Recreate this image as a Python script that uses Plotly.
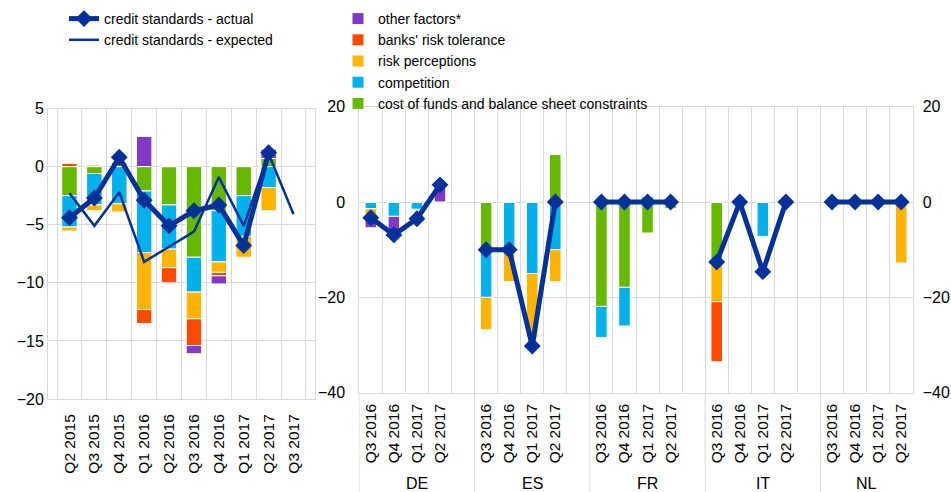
import plotly.graph_objects as go

# euro area panel
ea_quarters = ["Q2 2015", "Q3 2015", "Q4 2015", "Q1 2016", "Q2 2016",
               "Q3 2016", "Q4 2016", "Q1 2017", "Q2 2017", "Q3 2017"]
ea_cost = [-2.5, -0.6, 0, -2.1, -3.3, -7.8, -3.8, -2.5, 0.7, None]
ea_comp = [-2.7, -2.7, -3.2, -5.3, -3.8, -3.0, -4.4, -3.5, -1.8, None]
ea_risk = [-0.35, -0.5, -0.7, -4.9, -1.6, -2.3, -0.9, -1.8, -2.0, None]
ea_tol = [0.3, 0.15, 0.4, -1.2, -1.3, -2.3, -0.3, 0.1, 0, None]
ea_other = [0, 0, 0, 2.6, 0, -0.7, -0.7, 0, 0.8, None]
ea_actual = [-4.4, -2.7, 0.8, -2.9, -5.1, -3.8, -3.3, -6.8, 1.2, None]
ea_expected = [-2.3, -5.1, -2.2, -8.2, -6.9, -5.6, -0.9, -5.1, 1.1, -4.1]

# country panel (DE, ES, FR, IT, NL x 4 quarters)
countries = ["DE", "ES", "FR", "IT", "NL"]
cty_quarters = ["Q3 2016", "Q4 2016", "Q1 2017", "Q2 2017"]
cty_cost = [0, 0, 0, 0, -10.0, 0, 0, 10.0, -21.9, -17.9, -6.5, -1.4,
            -12.6, 0, 0, 0, 0, 0, 0, 0]
cty_comp = [-1.4, -3.0, -1.5, 0, -10.0, -10.0, -15.0, -10.0, -6.5, -8.1, 1.2, 0,
            0, 0, -7.2, 0, 0, 0, 0, 0]
cty_risk = [-1.2, 0, 0, 0, -6.8, -6.7, -13.5, -6.7, 0, 0, 0, 0,
            -8.3, 0, 0, 0, 0, 0, 0, -12.8]
cty_tol = [0, 0, 0, 0, 0, 0, 0, 0, 0, 0, 0, 0,
           -12.6, 0, 0, 0, 0, 0, 0, 0]
cty_other = [-2.8, -3.6, 0, 3.0, 0, 0, 0, 0, 0, 0, 0, 0,
             0, 0, 0, 0, 0, 0, 0, 0]
cty_actual = [-3.3, -6.9, -3.5, 3.6, -10.0, -10.0, -30.2, 0, 0, 0, 0, 0,
              -12.6, 0, -14.6, 0, 0, 0, 0, 0]

GREEN = "#66B800"
BLUE = "#00B1EA"
YELLOW = "#FFB400"
RED = "#FF4B00"
PURPLE = "#8139C6"
NAVY = "#003299"
GRID = "#D9D9D9"
FONT = "Liberation Sans"

W, H = 951, 492


def fx(p):
    return p / W


def fy(p):
    return 1 - p / H


def with_gaps(vals):
    out = []
    for i in range(len(countries)):
        out += vals[4 * i:4 * i + 4]
        if i < len(countries) - 1:
            out.append(None)
    return out


slots = list(range(len(countries) * 5 - 1))
tick_pos = [s for s in slots if s % 5 != 4]
tick_txt = cty_quarters * len(countries)

factors = [
    ("cost of funds and balance sheet constraints", GREEN, ea_cost, cty_cost),
    ("competition", BLUE, ea_comp, cty_comp),
    ("risk perceptions", YELLOW, ea_risk, cty_risk),
    ("banks' risk tolerance", RED, ea_tol, cty_tol),
    ("other factors*", PURPLE, ea_other, cty_other),
]

fig = go.Figure()

for name, color, ea_vals, cty_vals in factors:
    fig.add_trace(go.Bar(
        x=ea_quarters, y=ea_vals, name=name, width=0.62,
        marker=dict(color=color, line=dict(color="white", width=1)),
        legend="legend2", xaxis="x", yaxis="y"
    ))
    fig.add_trace(go.Bar(
        x=slots, y=with_gaps(cty_vals), name=name, width=0.5, showlegend=False,
        marker=dict(color=color, line=dict(color="white", width=1)),
        xaxis="x2", yaxis="y2"
    ))

fig.add_trace(go.Scatter(
    x=ea_quarters, y=ea_actual, name="credit standards - actual",
    mode="lines+markers", line=dict(color=NAVY, width=5),
    marker=dict(symbol="diamond", size=13, color=NAVY),
    legend="legend", xaxis="x", yaxis="y"
))
fig.add_trace(go.Scatter(
    x=ea_quarters, y=ea_expected, name="credit standards - expected",
    mode="lines", line=dict(color=NAVY, width=2.5),
    legend="legend", xaxis="x", yaxis="y"
))
fig.add_trace(go.Scatter(
    x=slots, y=with_gaps(cty_actual), name="credit standards - actual",
    mode="lines+markers", line=dict(color=NAVY, width=5),
    marker=dict(symbol="diamond", size=13, color=NAVY),
    showlegend=False, connectgaps=False, xaxis="x2", yaxis="y3"
))

# group labels and dividers under the country axis
shapes = []
annotations = []
for i, c in enumerate(countries):
    start = 5 * i - 0.5
    end = start + (5 if i < len(countries) - 1 else 4)
    shapes.append(dict(type="line", xref="x2", yref="paper", x0=start, x1=start,
                       y0=0, y1=fy(392.7), line=dict(color=GRID, width=1)))
    annotations.append(dict(text=c, x=(start + end) / 2, xref="x2", y=fy(483),
                            yref="paper", yanchor="middle", showarrow=False,
                            font=dict(size=16, color="black", family=FONT)))

xtick_font = dict(size=15.5, family=FONT, color="black")
ytick_font = dict(size=16, family=FONT, color="black")

fig.update_layout(
    width=W, height=H,
    margin=dict(l=0, r=0, t=0, b=0, autoexpand=False),
    paper_bgcolor="white", plot_bgcolor="white",
    barmode="relative",
    font=dict(family=FONT, size=15, color="black"),
    shapes=shapes, annotations=annotations,
    xaxis=dict(domain=[fx(48), fx(315)], anchor="y", type="category",
               tickson="boundaries", showgrid=True, gridcolor=GRID,
               showline=True, mirror=True, linecolor=GRID, ticks="",
               tickangle=-90, ticklabelstandoff=8, tickfont=xtick_font),
    yaxis=dict(domain=[fy(399), fy(108.5)], anchor="x", range=[-20, 5],
               dtick=5, showgrid=True, gridcolor=GRID, zeroline=False,
               showline=True, mirror=True, linecolor=GRID, ticks="",
               ticklabelstandoff=0, tickfont=ytick_font),
    xaxis2=dict(domain=[fx(359.3), fx(912.7)], anchor="y2", range=[-0.5, slots[-1] + 0.5],
                tickmode="array", tickvals=tick_pos, ticktext=tick_txt,
                showgrid=False, zeroline=False, showline=True, mirror=True,
                linecolor=GRID, ticks="", tickangle=-90, ticklabelstandoff=4,
                tickfont=xtick_font,
                minor=dict(tickmode="array",
                           tickvals=[s - 0.5 for s in slots] + [slots[-1] + 0.5],
                           showgrid=True, gridcolor=GRID, ticks="")),
    yaxis2=dict(domain=[fy(392.7), fy(106.7)], anchor="x2", range=[-40, 20],
                dtick=20, showgrid=True, gridcolor=GRID, zeroline=False,
                showline=True, mirror=True, linecolor=GRID, ticks="",
                ticklabelstandoff=10, tickfont=ytick_font),
    yaxis3=dict(overlaying="y2", anchor="x2", side="right", range=[-40, 20],
                dtick=20, showgrid=False, zeroline=False, ticks="",
                ticklabelstandoff=9, tickfont=ytick_font),
    legend=dict(x=fx(64), y=fy(3), xanchor="left", yanchor="top",
                bgcolor="rgba(0,0,0,0)", tracegroupgap=0,
                font=dict(size=14, family=FONT, color="black")),
    legend2=dict(x=fx(338), y=fy(3), xanchor="left", yanchor="top",
                 bgcolor="rgba(0,0,0,0)", traceorder="reversed", tracegroupgap=0,
                 font=dict(size=14, family=FONT, color="black")),
)

# drop the default page margin so the figure sits at the window's top-left corner
fig.write_html("out.html", config={"displayModeBar": False},
               post_script="document.body.style.margin = '0';")
